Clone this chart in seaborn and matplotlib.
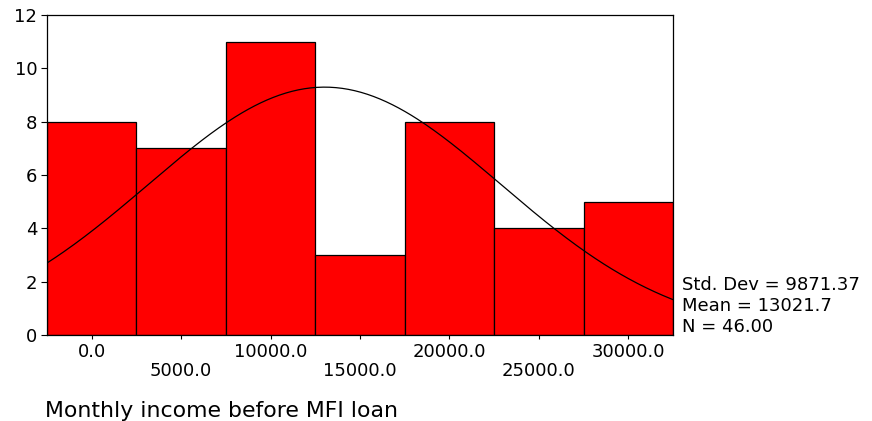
import numpy as np
import pandas as pd
import matplotlib
matplotlib.use("Agg")
import matplotlib.pyplot as plt
import seaborn as sns

# Histogram of monthly income (bins of width 5000, centred on the labels)
bin_centers = [0, 5000, 10000, 15000, 20000, 25000, 30000]
counts = [8, 7, 11, 3, 8, 4, 5]
major_ticks = [0, 10000, 20000, 30000]
minor_ticks = [5000, 15000, 25000]
y_ticks = [0, 2, 4, 6, 8, 10, 12]

std_dev = 9871.37
mean = 13021.7
n_obs = 46
bin_width = 5000

sns.set_style("ticks")
plt.rcParams["font.family"] = ["DejaVu Sans"]
plt.rcParams["text.color"] = "black"

fig = plt.figure(figsize=(8.72, 4.21), dpi=100)
ax = fig.add_axes([47 / 872, 1 - 335 / 421, (673 - 47) / 872, (335 - 15) / 421])

df = pd.DataFrame({"income": bin_centers, "count": counts})
edges = [c - bin_width / 2 for c in bin_centers] + [bin_centers[-1] + bin_width / 2]
sns.histplot(data=df, x="income", weights="count", bins=edges, ax=ax,
             color="#ff0000", edgecolor="black", linewidth=0.9, alpha=1)

# Fitted normal curve scaled to counts per bin
xs = np.linspace(edges[0], edges[-1], 300)
ys = n_obs * bin_width / (std_dev * np.sqrt(2 * np.pi)) * np.exp(-0.5 * ((xs - mean) / std_dev) ** 2)
sns.lineplot(x=xs, y=ys, ax=ax, color="black", linewidth=0.9)

ax.set_xlim(edges[0], edges[-1])
ax.set_ylim(0, 12)
ax.set_yticks(y_ticks)
ax.set_yticklabels([str(v) for v in y_ticks])
ax.set_xticks(major_ticks)
ax.set_xticklabels([f"{v:.1f}" for v in major_ticks])
ax.set_xticks(minor_ticks, minor=True)
ax.set_xticklabels([f"{v:.1f}" for v in minor_ticks], minor=True)

ax.tick_params(axis="x", which="major", length=3, width=0.8, pad=3, labelsize=13, colors="black")
ax.tick_params(axis="x", which="minor", length=3, width=0.8, pad=16.5, labelsize=13, colors="black")
ax.tick_params(axis="y", length=4, width=0.8, pad=3, labelsize=13, colors="black")

for s in ax.spines.values():
    s.set_visible(True)
    s.set_color("black")
    s.set_linewidth(0.9)

ax.set_xlabel("")
ax.set_ylabel("")

fig.text(45 / 872, 1 - 411 / 421, "Monthly income before MFI loan",
         fontsize=15.8, ha="left", va="center", color="black")

stats = [f"Std. Dev = {std_dev:.2f}", f"Mean = {mean:.1f}", f"N = {n_obs:.2f}"]
for i, line in enumerate(stats):
    fig.text(682 / 872, 1 - (285 + 21 * i) / 421, line, fontsize=13,
             ha="left", va="center", color="black")

fig.savefig("out.png", dpi=100)
